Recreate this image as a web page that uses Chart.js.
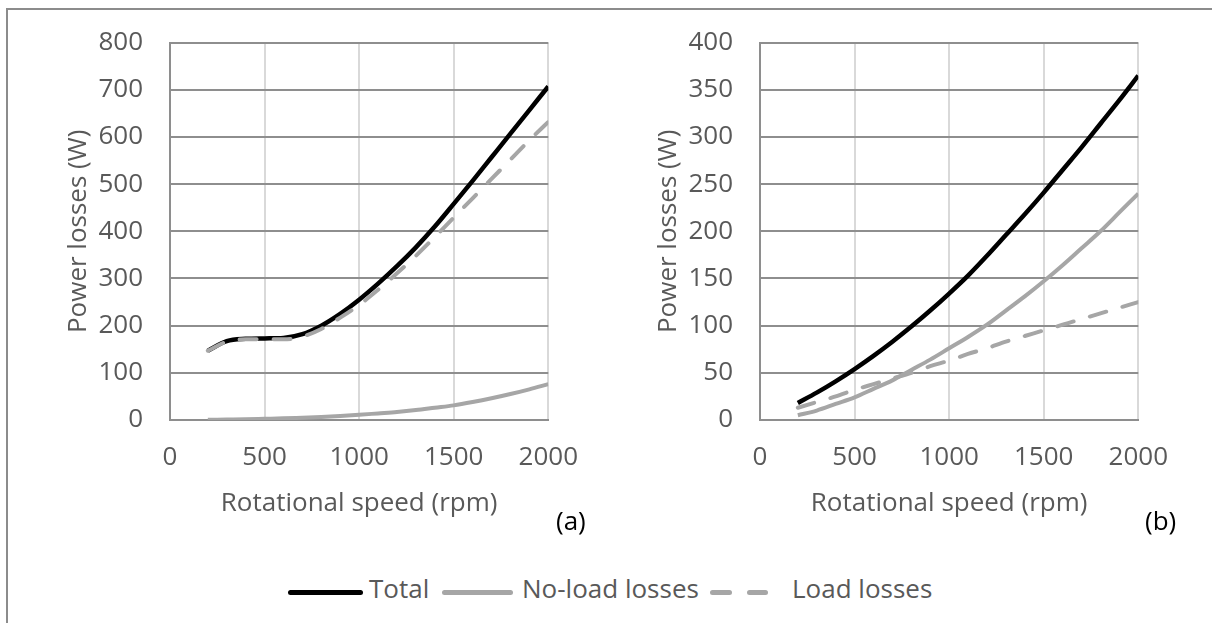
<!DOCTYPE html>
<html lang="en">
<head>
    <meta charset="UTF-8">
    <title>Power losses vs rotational speed</title>
    <script src="https://cdn.jsdelivr.net/npm/chart.js"></script>
    <style>
        html, body {
            margin: 0;
            width: 1212px;
            height: 623px;
            overflow: hidden;
            background: #ffffff;
            font-family: 'Open Sans', sans-serif;
        }

        .frame {
            position: absolute;
            left: 6px;
            top: 8px;
            width: 1400px;
            height: 800px;
            border-left: 2px solid #8c8c8c;
            border-top: 2px solid #8c8c8c;
        }

        canvas {
            position: absolute;
            top: 0;
        }

        #chartA { left: 0; }
        #chartB { left: 590px; }

        .tag {
            position: absolute;
            top: 505px;
            font-size: 26px;
            line-height: 31px;
            color: #000;
        }

        .legend div {
            position: absolute;
        }

        .legend .txt {
            top: 573px;
            font-size: 26px;
            line-height: 31px;
            color: #595959;
            white-space: nowrap;
        }

        .legend .swatch {
            top: 590px;
            height: 5px;
            border-radius: 2.5px;
        }
    </style>
</head>
<body>
    <div class="frame"></div>
    <canvas id="chartA" width="600" height="540"></canvas>
    <canvas id="chartB" width="600" height="540"></canvas>
    <div class="tag" style="left:556px">(a)</div>
    <div class="tag" style="left:1145px">(b)</div>

    <div class="legend">
        <div class="swatch" style="left:288px;width:75px;background:#000"></div>
        <div class="txt" style="left:369px">Total</div>
        <div class="swatch" style="left:442px;width:71px;background:#a6a6a6"></div>
        <div class="txt" style="left:522px">No-load losses</div>
        <div class="swatch" style="left:710px;width:22px;background:#a6a6a6"></div>
        <div class="swatch" style="left:747px;width:21px;background:#a6a6a6"></div>
        <div class="txt" style="left:792px">Load losses</div>
    </div>

    <script>
        // rotational speed (rpm)
        const speed = [200, 300, 400, 500, 600, 700, 800, 900, 1000, 1100,
            1200, 1300, 1400, 1500, 1600, 1700, 1800, 1900, 2000];

        // (a) power losses (W)
        const totalA = [147, 167, 172, 173, 174, 182, 200, 225, 255, 289,
            326, 366, 410, 458, 507, 557, 607, 657, 707];
        const noLoadA = [0.5, 1, 1.5, 2.5, 3.5, 5, 6.5, 8.5, 11, 14,
            17, 21, 26, 31, 38, 46, 55, 65, 76];
        const loadA = [147, 166, 171, 171, 171, 177, 193, 217, 244, 276,
            311, 348, 388, 429, 470, 511, 552, 593, 632];

        // (b) power losses (W)
        const totalB = [18, 29, 41, 54, 68, 83, 99, 116, 134, 153,
            174, 196, 218, 241, 265, 289, 314, 339, 365];
        const noLoadB = [5, 10, 17, 24, 33, 42, 53, 64, 76, 88,
            101, 116, 131, 147, 164, 182, 200, 220, 240];
        const loadB = [13, 19, 25, 32, 38, 44, 50, 57, 63, 70,
            76, 83, 89, 95, 101, 107, 113, 119, 125];

        const xTicks = [0, 500, 1000, 1500, 2000];
        const yTicksA = [0, 100, 200, 300, 400, 500, 600, 700, 800];
        const yTicksB = [0, 50, 100, 150, 200, 250, 300, 350, 400];

        const TEXT = '#595959';
        const DARK_GRID = '#8e8e8e';
        const LIGHT_GRID = '#d9d9d9';
        const FONT = { family: "'Open Sans', sans-serif", size: 26 };

        function points(values) {
            return speed.map((s, i) => ({ x: s, y: values[i] }));
        }

        function makeChart(id, total, noLoad, load, yTicks) {
            const ctx = document.getElementById(id).getContext('2d');
            return new Chart(ctx, {
                type: 'line',
                data: {
                    datasets: [{
                        label: 'Total',
                        data: points(total),
                        borderColor: '#000000',
                        borderWidth: 4.5,
                        order: 3
                    }, {
                        label: 'No-load losses',
                        data: points(noLoad),
                        borderColor: '#a6a6a6',
                        borderWidth: 4,
                        order: 2
                    }, {
                        label: 'Load losses',
                        data: points(load),
                        borderColor: '#a6a6a6',
                        borderWidth: 4,
                        borderDash: [17, 17],
                        borderCapStyle: 'round',
                        order: 1
                    }]
                },
                options: {
                    responsive: false,
                    animation: false,
                    devicePixelRatio: 1,
                    layout: { padding: { top: 39, right: 50, left: 0, bottom: 0 } },
                    elements: {
                        point: { radius: 0 },
                        line: { cubicInterpolationMode: 'monotone', fill: false, borderJoinStyle: 'round' }
                    },
                    plugins: {
                        legend: { display: false },
                        tooltip: { enabled: false }
                    },
                    scales: {
                        x: {
                            type: 'linear',
                            min: xTicks[0],
                            max: xTicks[xTicks.length - 1],
                            afterBuildTicks: s => { s.ticks = xTicks.map(v => ({ value: v })); },
                            afterFit: s => { s.height = 120; },
                            grid: {
                                color: c => c.tick && c.tick.value === 0 ? DARK_GRID : LIGHT_GRID,
                                lineWidth: 2,
                                drawTicks: false
                            },
                            border: { color: DARK_GRID, width: 2 },
                            ticks: { color: TEXT, font: FONT, padding: 22, maxRotation: 0, callback: v => String(v) },
                            title: {
                                display: true,
                                text: 'Rotational speed (rpm)',
                                color: TEXT,
                                font: FONT,
                                padding: { top: 0, bottom: 21 }
                            }
                        },
                        y: {
                            min: yTicks[0],
                            max: yTicks[yTicks.length - 1],
                            afterBuildTicks: s => { s.ticks = yTicks.map(v => ({ value: v })); },
                            afterFit: s => { s.width = 170; },
                            grid: { color: DARK_GRID, lineWidth: 2, drawTicks: false },
                            border: { color: DARK_GRID, width: 2 },
                            ticks: { color: TEXT, font: FONT, padding: 27, callback: v => String(v) },
                            title: {
                                display: true,
                                text: 'Power losses (W)',
                                color: TEXT,
                                font: FONT,
                                padding: { top: 63, bottom: 0 }
                            }
                        }
                    }
                }
            });
        }

        makeChart('chartA', totalA, noLoadA, loadA, yTicksA);
        makeChart('chartB', totalB, noLoadB, loadB, yTicksB);
    </script>
</body>
</html>
